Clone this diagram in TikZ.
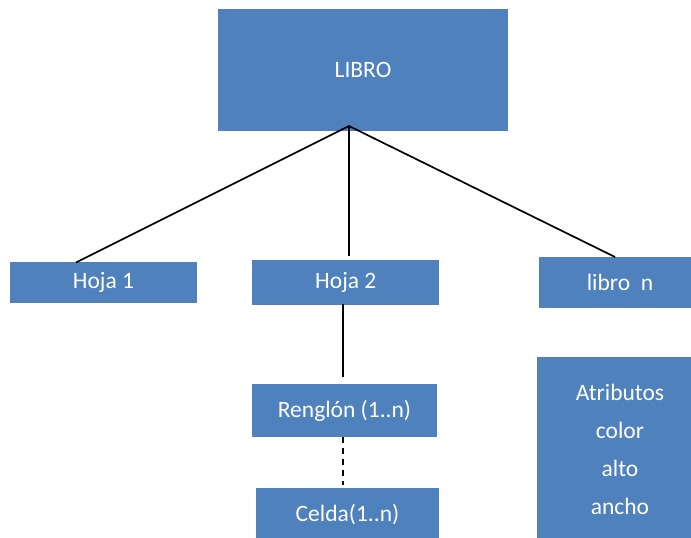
\documentclass[tikz,border=0pt]{standalone}
\usepackage{fontspec}
\setmainfont{Carlito}
\definecolor{boxblue}{HTML}{4F81BD}
\begin{document}
\begin{tikzpicture}[x=1pt,y=-1pt,
  bluebox/.style={fill=boxblue, draw=none, text=white, inner sep=0pt,
    font=\fontsize{23.5}{38}\selectfont, align=center},
  conn/.style={draw=black, line width=1.7pt},
  dconn/.style={conn, dash pattern=on 6pt off 5pt}]
\useasboundingbox (0,0) rectangle (691,538);
\clip (0,0) rectangle (691,538);
\fill[white] (0,0) rectangle (691,538);
\node[bluebox, minimum width=290pt, minimum height=122pt] (libro) at (363,69.5) {LIBRO};
\node[bluebox, minimum width=187pt, minimum height=41pt] (hoja1) at (103.5,282.5) {Hoja 1};
\node[bluebox, minimum width=187pt, minimum height=45pt] (hoja2) at (345.8,282.8) {Hoja 2};
\node[bluebox, minimum width=162pt, minimum height=51pt] (libron) at (620,282.8) {libro\ \ n};
\node[bluebox, minimum width=185pt, minimum height=53pt] (renglon) at (344.5,410.5) {Renglón (1..n)};
\node[bluebox, minimum width=183pt, minimum height=54pt] (celda) at (347.5,515) {Celda(1..n)};
\node[bluebox, minimum width=166pt, minimum height=184pt] (attr) at (620,449)
  {Atributos\\color\\alto\\ancho};
\coordinate (apex) at (349,126);
\coordinate (e1) at (76,262.5);
\coordinate (e2) at (349,256);
\coordinate (e3) at (615,257);
\coordinate (s2) at (342.7,303.5);
\coordinate (s3) at (342.7,377);
\coordinate (d1) at (342.7,437);
\coordinate (d2) at (342.7,485);
\draw[conn] (e1) -- (apex) -- (e3);
\draw[conn] (apex) -- (e2);
\draw[conn] (s2) -- (s3);
\draw[dconn] (d1) -- (d2);
\end{tikzpicture}
\end{document}
